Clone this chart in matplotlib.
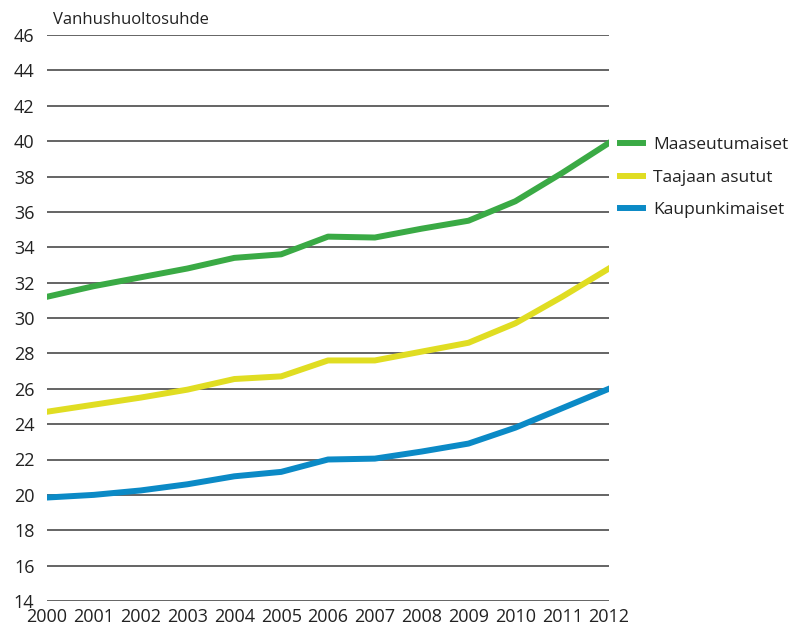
import matplotlib
matplotlib.use("Agg")
import matplotlib.pyplot as plt

plt.rcParams['font.family'] = ['Open Sans', 'DejaVu Sans']

# data
years = [2000, 2001, 2002, 2003, 2004, 2005, 2006, 2007, 2008, 2009, 2010, 2011, 2012]
maaseutumaiset = [31.2, 31.8, 32.3, 32.8, 33.4, 33.6, 34.6, 34.55, 35.05, 35.5, 36.6, 38.2, 39.9]
taajaan_asutut = [24.7, 25.1, 25.5, 25.95, 26.55, 26.7, 27.6, 27.6, 28.1, 28.6, 29.7, 31.2, 32.8]
kaupunkimaiset = [19.85, 20.0, 20.25, 20.6, 21.05, 21.3, 22.0, 22.05, 22.45, 22.9, 23.8, 24.9, 26.0]
y_ticks = list(range(14, 47, 2))

fig = plt.figure(figsize=(7.98, 6.29), dpi=100)
ax = fig.add_axes([47 / 798, 1 - 601 / 629, (609 - 47) / 798, (601 - 35) / 629])

for y in y_ticks:
    ax.axhline(y, color='#4a4a4a', lw=1.2, zorder=1)

lw = 4.3
ax.plot(years, maaseutumaiset, color='#3aaa45', lw=lw, label='Maaseutumaiset', zorder=3)
ax.plot(years, taajaan_asutut, color='#e0dd22', lw=lw, label='Taajaan asutut', zorder=3)
ax.plot(years, kaupunkimaiset, color='#0b8ac6', lw=lw, label='Kaupunkimaiset', zorder=3)

ax.set_xlim(2000, 2012)
ax.set_ylim(14, 46)
ax.set_xticks(years)
ax.set_xticklabels([str(y) for y in years])
ax.set_yticks(y_ticks)
ax.tick_params(length=0, labelsize=13, colors='#222222')
ax.tick_params(axis='y', pad=9)
ax.tick_params(axis='x', pad=5)
for s in ax.spines.values():
    s.set_visible(False)

ax.text(0.01, 1.012, 'Vanhushuoltosuhde', transform=ax.transAxes, fontsize=12,
        color='#222222', va='bottom', ha='left')

leg = ax.legend(loc='upper left', bbox_to_anchor=(1.0196, 0.82), frameon=False,
                fontsize=12.5, handlelength=1.35, handletextpad=0.55, labelspacing=0.95,
                borderaxespad=0, borderpad=0)
for t in leg.get_texts():
    t.set_color('#222222')

fig.savefig('out.png', dpi=100)
